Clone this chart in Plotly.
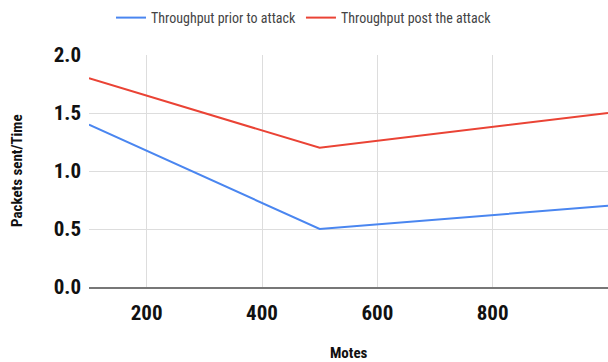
import plotly.graph_objects as go

motes = [100, 500, 1000]
prior = [1.4, 0.5, 0.7]
post = [1.8, 1.2, 1.5]
series_names = ["Throughput prior to attack", "Throughput post the attack"]
x_title = "Motes"
y_title = "Packets sent/Time"

font_fam = "Liberation Sans Narrow, Roboto Condensed, Arial Narrow, Liberation Sans, Arial"

fig = go.Figure()
fig.add_trace(go.Scatter(x=motes, y=prior, mode="lines", name=series_names[0],
                         line=dict(color="#4a86f0", width=2)))
fig.add_trace(go.Scatter(x=motes, y=post, mode="lines", name=series_names[1],
                         line=dict(color="#ea4335", width=2)))

W, H = 608, 362
L, R, T, B = 89, 0, 55, 75
PW, PH = W - L - R, H - T - B
fig.update_layout(
    width=W, height=H,
    margin=dict(l=L, r=R, t=T, b=B, autoexpand=False),
    paper_bgcolor="white", plot_bgcolor="white",
    font=dict(family=font_fam, color="#222"),
    legend=dict(orientation="h", x=0.5, xanchor="center", xref="container",
                y=1 - 2 / H, yanchor="top", yref="container",
                font=dict(size=14, color="#444"), itemwidth=30),
    showlegend=True,
)
fig.update_xaxes(range=[100, 1000], tickvals=[200, 400, 600, 800],
                 showgrid=True, gridcolor="#dddddd", gridwidth=1,
                 showline=True, linecolor="#777", linewidth=2,
                 zeroline=False, ticks="", automargin=False, ticklabelstandoff=6,
                 tickfont=dict(size=21, family=font_fam, color="#111", weight="bold"))
fig.update_yaxes(range=[0, 2], tickvals=[0, 0.5, 1.0, 1.5, 2.0], tickformat=".1f",
                 showgrid=True, gridcolor="#dddddd", gridwidth=1,
                 zeroline=False, showline=False, ticks="", automargin=False,
                 ticklabelstandoff=7,
                 tickfont=dict(size=21, family=font_fam, color="#111", weight="bold"))

fig.add_annotation(text="<b>" + x_title + "</b>", xref="paper", yref="paper",
                   x=0.5, y=(H - B - 353) / PH, yanchor="middle", showarrow=False,
                   font=dict(size=15, family=font_fam, color="#111"))
fig.add_annotation(text="<b>" + y_title + "</b>", xref="paper", yref="paper",
                   x=(17 - L) / PW, y=0.5, xanchor="center", textangle=-90, showarrow=False,
                   font=dict(size=15, family=font_fam, color="#111"))

fig.write_html("out.html", config={"displayModeBar": False},
               post_script="document.body.style.margin='0';document.body.style.overflow='hidden';")
